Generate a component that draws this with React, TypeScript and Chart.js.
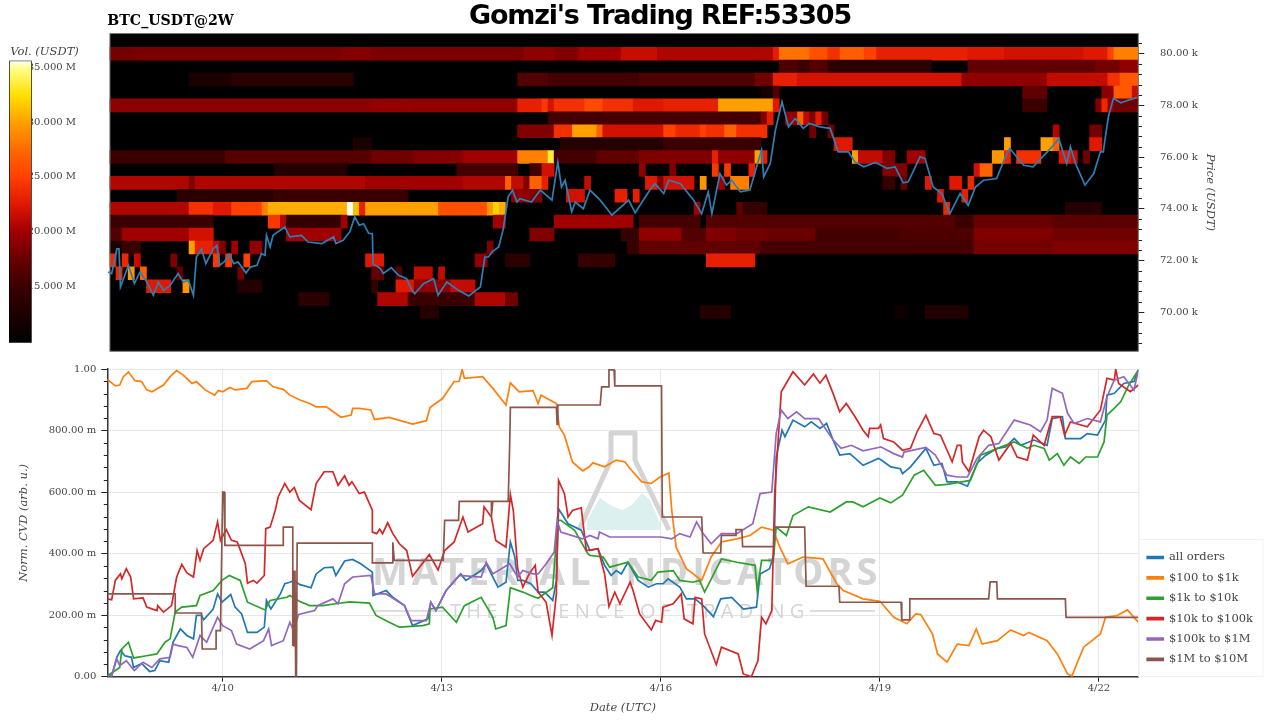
import React, { useEffect, useRef } from 'react';
import { Chart, registerables } from 'chart.js';

Chart.register(...registerables);

const SERIF = '"DejaVu Serif"';
const TEXT = '#444444';
const X_MIN = 8.42;
const X_MAX = 22.54;
const HEAT_T0 = 8.456;
const DATE_TICKS = [10, 13, 16, 19, 22];
const PRICE_TICKS = [70, 72, 74, 76, 78, 80];
const VOL_TICKS = [15, 20, 25, 30, 35];
const CVD_TICKS = [0, 0.2, 0.4, 0.6, 0.8, 1];

// colour scale of the heat map: volume in M USDT, then r, g, b
const volStops = [
  [9.8, 0, 0, 0], [12, 26, 0, 0], [15, 58, 0, 0], [17, 96, 0, 0], [20, 160, 0, 0],
  [22.5, 224, 24, 0], [25, 255, 64, 0], [27, 255, 96, 0], [28.5, 255, 128, 0],
  [30, 255, 160, 0], [32.5, 255, 224, 0], [35, 255, 255, 144], [35.66, 255, 255, 255],
];

// heat map runs per price bin: first 2h column, end column, volume (M USDT)
const heat80 = [[0,4,18],[4,38,18.2],[38,43,18.7],[43,68,18.3],[68,73,19.2],[73,77,18.5],[77,84,20],[84,90,21.5],[90,107,20.5],[107,109,20.6],[109,110,22.8],[110,115,27.8],[115,118,26],[118,120,24],[120,124,26.8],[124,126,25],[126,141,23],[141,147,22.5],[147,160,21.9],[160,164,22.5],[164,165,25],[165,169,28.5]];
const heat795 = [[110,113,16],[113,115,15],[115,118,16.3],[118,135,13.6],[141,162,17],[162,166,18],[166,169,19.3]];
const heat79 = [[13,20,12.2],[20,40,13.6],[67,72,16.3],[72,87,15.5],[87,106,16],[106,109,17.8],[109,113,23],[113,140,22],[140,154,19.3],[154,164,21.3],[164,166,24],[166,169,26.5]];
const heat785 = [[107,109,11.5],[109,110,16.3],[150,154,17],[163,165,19],[165,168,26.5],[168,169,21.5]];
const heat78 = [[0,43,19],[43,50,19.4],[50,67,19.3],[67,71,23],[71,72,24.5],[72,73,22],[73,78,24],[78,81,25.5],[81,86,24],[86,91,22.5],[91,100,23],[100,109,30],[109,110,22.5],[150,154,15],[162,163,18.5],[163,164,23.5],[164,165,19.3],[165,169,17.8]];
const heat775 = [[72,107,15.5],[107,108,18.5],[108,109,22.8],[111,113,19.3],[113,114,27],[114,115,21],[115,116,18.5],[116,117,22.8],[117,118,17.8]];
const heat77 = [[67,73,18.5],[73,76,24],[76,80,30],[80,81,27],[81,91,21.9],[91,93,25],[93,97,23.5],[97,98,25],[98,101,24],[101,103,27],[103,108,24],[115,116,17.8],[118,119,17.8],[155,156,20.6],[161,163,17.8]];
const heat765 = [[40,43,12.2],[74,91,13],[91,107,15],[119,122,22.5],[147,148,30],[153,155,30],[155,156,27],[161,163,22.5]];
const heat76 = [[0,19,15],[19,43,16.5],[43,50,17.8],[50,58,18.7],[58,67,20],[67,72,28.5],[72,73,33.5],[73,80,15.5],[80,87,17],[87,99,18.5],[99,100,23],[100,106,19.3],[106,107,30],[107,108,23],[122,123,30],[123,127,21.3],[127,129,18.5],[131,134,20],[145,147,29.5],[147,148,23.5],[149,153,24],[156,158,22.5],[158,159,21.3],[160,161,17.8]];
const heat755 = [[27,39,13],[57,67,15.5],[69,71,15.5],[71,73,21.9],[87,88,19.3],[92,93,18.5],[99,100,24.5],[101,102,24.5],[105,106,23],[127,131,18.5],[142,143,21.9],[143,145,27]];
const heat75 = [[0,13,20.6],[13,14,18.5],[14,42,20.6],[42,58,20],[58,65,20.6],[65,66,27],[66,68,21.3],[68,69,18.5],[69,71,27],[71,72,23],[78,79,21.3],[88,90,22.5],[90,91,18.5],[91,96,21.9],[97,98,29.5],[100,101,20],[102,105,28.5],[127,129,14.5],[130,131,17],[134,135,22.5],[138,140,22.5],[141,142,23.5]];
const heat745 = [[11,27,13.6],[27,49,15],[66,69,19.3],[69,71,18.5],[75,78,21.9],[83,85,23],[86,87,23],[136,137,22.5],[140,141,23]];
const heat74 = [[0,13,20.6],[13,17,24],[17,20,22.5],[20,25,25],[25,26,28.5],[26,39,30.5],[39,40,35.6],[40,41,31.2],[41,42,23],[42,54,30],[54,62,26],[62,63,29.5],[63,64,32],[64,65,30.5],[96,97,20],[103,104,17],[104,108,14.5],[137,138,23.5],[157,163,13]];
const heat735 = [[0,17,15],[26,28,24.5],[28,29,20.6],[29,38,14.5],[38,39,20],[63,65,20],[73,86,20],[87,97,15.5],[98,107,16.3],[107,139,16.3],[139,142,15],[142,155,17.4],[155,169,16.7]];
const heat73 = [[0,2,16.3],[2,13,20],[13,17,21.9],[29,38,20],[69,73,18.5],[84,87,14.5],[87,94,19.3],[94,98,16.3],[98,103,18.5],[103,108,17.8],[108,116,17.4],[116,130,15.5],[130,142,16],[142,155,18.5],[155,169,17.8]];
const heat725 = [[0,2,12.2],[2,5,15],[13,14,30],[14,17,23],[17,18,21.3],[18,19,18.5],[20,21,20],[23,25,19.3],[62,63,18.5],[85,87,14.5],[87,107,17],[107,142,15.5],[142,155,18],[155,169,18.5]];
const heat72 = [[0,1,23.5],[2,3,23.5],[4,5,21.3],[10,11,18.5],[17,18,24.5],[19,20,24.5],[22,23,25],[42,45,22.5],[60,62,19.3],[65,69,13.6],[77,83,14.5],[98,106,23]];
const heat715 = [[1,2,23.5],[3,4,29.5],[5,6,27],[11,12,17],[21,22,17.8],[43,45,17],[47,48,16.3],[50,53,21.3],[54,55,21.3]];
const heat71 = [[6,10,22.5],[12,13,29.5],[21,25,13],[43,44,14.5],[47,50,22.5],[50,56,19.3],[56,60,21.3]];
const heat705 = [[31,36,13.6],[44,49,20.6],[49,60,15],[60,65,20.6],[65,67,17.8]];
const heat70 = [[51,54,13],[97,102,13],[129,131,11],[134,141,12.6]];
const heatPrices = [80, 79.5, 79, 78.5, 78, 77.5, 77, 76.5, 76, 75.5, 75, 74.5, 74, 73.5, 73, 72.5, 72, 71.5, 71, 70.5, 70];
const heatRows = [heat80, heat795, heat79, heat785, heat78, heat775, heat77, heat765, heat76, heat755, heat75, heat745, heat74, heat735, heat73, heat725, heat72, heat715, heat71, heat705, heat70];

// BTC price, [day of April, k USDT]
const priceLine = [[8.43,71.55],[8.48,71.49],[8.53,72.13],[8.55,72.45],[8.58,72.45],[8.6,70.97],[8.71,71.81],[8.79,71.1],[8.87,71.55],[8.96,71.16],[9.05,70.65],[9.12,71.16],[9.19,70.84],[9.28,71.03],[9.39,71.49],[9.46,71.16],[9.53,71.23],[9.6,70.65],[9.64,72.13],[9.71,72.45],[9.77,71.87],[9.87,72.45],[9.92,72.58],[9.96,71.81],[10.02,71.94],[10.09,72.24],[10.15,71.87],[10.21,71.94],[10.32,71.51],[10.38,71.74],[10.47,71.81],[10.53,72.26],[10.58,72.2],[10.6,72.97],[10.65,72.52],[10.69,72.97],[10.85,73.29],[10.92,72.91],[11.08,72.97],[11.17,72.71],[11.36,72.65],[11.52,72.91],[11.55,72.65],[11.65,72.78],[11.74,73.1],[11.81,73.68],[11.87,73.36],[11.93,73.42],[12,73.04],[12.05,73.04],[12.06,71.87],[12.16,71.68],[12.2,71.49],[12.31,71.72],[12.41,71.42],[12.52,71.29],[12.59,70.84],[12.63,70.71],[12.75,71.1],[12.89,71.29],[12.95,70.65],[13.07,71.16],[13.23,70.84],[13.37,70.62],[13.53,70.97],[13.59,72.13],[13.64,72.13],[13.69,72.33],[13.78,72.52],[13.84,73.17],[13.91,74.46],[13.97,74.72],[14.03,74.26],[14.07,74.39],[14.23,74.26],[14.35,74.72],[14.51,74.33],[14.59,75.81],[14.64,74.84],[14.69,75.1],[14.78,73.88],[14.83,74.26],[14.94,74],[15.03,74.72],[15.17,74.33],[15.28,73.94],[15.33,73.75],[15.56,74.33],[15.65,73.84],[15.85,74.72],[15.92,74.97],[16.04,74.59],[16.11,75.1],[16.27,74.97],[16.45,74.33],[16.56,73.81],[16.65,74.65],[16.7,73.81],[16.81,75.36],[16.9,74.91],[16.97,75.1],[17.09,74.65],[17.22,74.72],[17.38,76.27],[17.41,75.23],[17.5,75.75],[17.57,77.04],[17.66,78.14],[17.75,77.17],[17.84,77.49],[17.95,77.11],[18.04,77.3],[18.18,77.17],[18.32,77.11],[18.43,76.2],[18.57,76.2],[18.66,75.81],[18.78,75.62],[18.94,75.79],[19.1,75.56],[19.21,75.62],[19.32,75],[19.39,75.04],[19.55,76.01],[19.62,75.94],[19.73,74.84],[19.85,74.59],[19.96,73.81],[20.1,74.59],[20.21,74.13],[20.31,74.84],[20.42,75.1],[20.6,75.17],[20.72,76.01],[20.78,76.33],[20.97,75.68],[21.1,75.62],[21.38,76.46],[21.45,76.72],[21.56,75.75],[21.61,76.4],[21.68,75.75],[21.81,74.91],[21.93,75.36],[22.02,76.2],[22.06,76.2],[22.13,77.56],[22.2,78.27],[22.3,78.1],[22.4,78.2],[22.52,78.3]];

// normalised CVD, [day of April, value]
const allOrders = [[8.42,.009],[8.48,.003],[8.55,.063],[8.6,.085],[8.66,.068],[8.75,.063],[8.78,.03],[8.89,.043],[9,.017],[9.07,.02],[9.14,.052],[9.26,.047],[9.32,.112],[9.42,.155],[9.51,.134],[9.6,.123],[9.64,.199],[9.71,.199],[9.74,.185],[9.87,.22],[9.93,.269],[9.99,.242],[10.11,.267],[10.17,.226],[10.26,.204],[10.34,.144],[10.47,.144],[10.57,.161],[10.6,.248],[10.66,.22],[10.79,.269],[10.85,.302],[10.92,.307],[10.98,.313],[11.05,.3],[11.21,.289],[11.28,.334],[11.39,.354],[11.51,.356],[11.55,.329],[11.67,.376],[11.78,.381],[11.89,.367],[12.05,.34],[12.06,.264],[12.24,.28],[12.33,.258],[12.49,.231],[12.6,.166],[12.81,.188],[12.85,.242],[12.92,.215],[13.06,.28],[13.26,.334],[13.33,.313],[13.54,.345],[13.61,.367],[13.7,.324],[13.77,.291],[13.88,.307],[13.94,.438],[14,.39],[14.04,.313],[14.11,.313],[14.22,.302],[14.32,.275],[14.41,.275],[14.52,.248],[14.57,.313],[14.6,.546],[14.73,.497],[14.91,.476],[15.03,.41],[15.14,.416],[15.23,.362],[15.32,.329],[15.39,.345],[15.46,.334],[15.55,.372],[15.69,.313],[15.83,.291],[15.94,.302],[16.03,.302],[16.1,.318],[16.26,.291],[16.35,.253],[16.47,.253],[16.58,.231],[16.72,.195],[16.82,.253],[16.97,.258],[17.13,.22],[17.31,.226],[17.36,.334],[17.49,.351],[17.55,.4],[17.58,.714],[17.66,.801],[17.7,.78],[17.81,.834],[17.97,.812],[18.06,.828],[18.18,.807],[18.27,.823],[18.36,.769],[18.45,.72],[18.59,.725],[18.77,.687],[18.98,.709],[19.01,.706],[19.15,.682],[19.28,.676],[19.31,.66],[19.42,.682],[19.63,.742],[19.74,.687],[19.85,.693],[19.92,.633],[20.06,.633],[20.2,.619],[20.33,.693],[20.45,.72],[20.61,.742],[20.72,.747],[20.84,.774],[20.93,.752],[21.11,.769],[21.29,.752],[21.36,.839],[21.5,.845],[21.54,.774],[21.75,.774],[21.84,.79],[21.98,.785],[22.09,.834],[22.11,.915],[22.21,.921],[22.34,.953],[22.48,.959],[22.54,.997]];
const from100To1k = [[8.42,.966],[8.53,.945],[8.59,.948],[8.64,.975],[8.71,.99],[8.8,.962],[8.89,.959],[8.96,.932],[9.03,.926],[9.19,.948],[9.28,.975],[9.37,.995],[9.46,.98],[9.58,.953],[9.64,.959],[9.76,.932],[9.89,.915],[9.94,.93],[10,.926],[10.1,.94],[10.17,.932],[10.33,.937],[10.4,.959],[10.6,.962],[10.69,.942],[10.83,.934],[10.92,.915],[11.06,.899],[11.19,.888],[11.28,.877],[11.42,.877],[11.62,.843],[11.76,.85],[11.78,.872],[11.87,.872],[12.03,.867],[12.08,.836],[12.28,.843],[12.6,.821],[12.79,.832],[12.84,.875],[13.01,.904],[13.17,.959],[13.24,.96],[13.28,.999],[13.31,.97],[13.56,.975],[13.7,.937],[13.88,.883],[13.94,.955],[14.06,.926],[14.25,.93],[14.32,.888],[14.36,.915],[14.57,.888],[14.61,.812],[14.68,.785],[14.79,.698],[14.93,.669],[15.02,.682],[15.07,.695],[15.23,.682],[15.39,.704],[15.51,.698],[15.58,.676],[15.74,.633],[15.87,.628],[15.99,.649],[16.11,.662],[16.15,.541],[16.21,.421],[16.35,.351],[16.56,.313],[16.69,.389],[16.83,.438],[17.04,.448],[17.22,.459],[17.38,.486],[17.54,.476],[17.63,.421],[17.74,.367],[17.95,.389],[18.22,.383],[18.41,.302],[18.5,.28],[18.77,.253],[19,.245],[19.19,.193],[19.37,.172],[19.49,.204],[19.56,.202],[19.72,.139],[19.79,.074],[19.92,.047],[20.06,.106],[20.22,.101],[20.32,.155],[20.4,.106],[20.61,.117],[20.79,.152],[20.97,.134],[21.04,.144],[21.29,.117],[21.43,.074],[21.57,.009],[21.63,.002],[21.79,.096],[22.02,.139],[22.09,.193],[22.25,.199],[22.39,.217],[22.48,.193],[22.54,.177]];
const from1kTo10k = [[8.42,.003],[8.53,.02],[8.59,.03],[8.62,.09],[8.71,.112],[8.78,.061],[8.96,.068],[9.1,.074],[9.21,.112],[9.28,.123],[9.35,.21],[9.44,.226],[9.64,.231],[9.69,.264],[9.87,.28],[9.99,.313],[10.09,.329],[10.24,.313],[10.34,.242],[10.58,.217],[10.65,.248],[10.88,.258],[10.92,.264],[11.05,.245],[11.19,.231],[11.37,.231],[11.55,.237],[11.74,.243],[12.01,.239],[12.1,.199],[12.28,.177],[12.42,.161],[12.74,.166],[12.83,.172],[12.84,.22],[13.01,.226],[13.2,.177],[13.31,.231],[13.54,.258],[13.7,.193],[13.74,.155],[13.88,.166],[13.94,.289],[14.11,.275],[14.22,.264],[14.32,.255],[14.52,.289],[14.59,.508],[14.63,.508],[14.82,.476],[15,.4],[15.03,.394],[15.21,.389],[15.3,.356],[15.55,.372],[15.69,.324],[15.87,.313],[15.96,.34],[16.17,.345],[16.26,.313],[16.44,.307],[16.53,.313],[16.6,.275],[16.83,.383],[17.04,.372],[17.29,.362],[17.32,.28],[17.38,.378],[17.54,.378],[17.58,.486],[17.72,.459],[17.81,.524],[18.02,.552],[18.32,.535],[18.54,.568],[18.63,.568],[18.77,.552],[19,.581],[19.15,.565],[19.31,.59],[19.47,.655],[19.6,.671],[19.76,.622],[19.92,.625],[20.24,.638],[20.38,.72],[20.61,.742],[20.84,.763],[21.02,.742],[21.11,.752],[21.25,.742],[21.32,.704],[21.43,.725],[21.52,.687],[21.61,.714],[21.73,.693],[21.82,.714],[21.98,.714],[22.07,.763],[22.11,.85],[22.23,.877],[22.3,.894],[22.41,.948],[22.54,.997]];
const from10kTo100k = [[8.42,.253],[8.48,.25],[8.53,.313],[8.6,.334],[8.62,.318],[8.68,.351],[8.74,.324],[8.78,.253],[8.91,.256],[8.96,.226],[9.1,.215],[9.11,.231],[9.19,.21],[9.3,.231],[9.37,.324],[9.44,.365],[9.51,.337],[9.6,.324],[9.65,.41],[9.69,.378],[9.74,.416],[9.87,.443],[9.93,.503],[9.97,.443],[10.05,.478],[10.12,.443],[10.2,.438],[10.31,.367],[10.34,.304],[10.42,.313],[10.47,.304],[10.57,.329],[10.59,.481],[10.65,.486],[10.72,.541],[10.76,.584],[10.85,.628],[10.92,.6],[10.98,.615],[11.05,.573],[11.21,.543],[11.28,.628],[11.39,.666],[11.51,.666],[11.58,.622],[11.67,.653],[11.73,.622],[11.77,.634],[11.87,.595],[11.94,.6],[12.05,.541],[12.05,.47],[12.11,.465],[12.15,.48],[12.19,.465],[12.26,.5],[12.33,.465],[12.42,.432],[12.52,.41],[12.6,.326],[12.83,.397],[12.95,.347],[13.04,.41],[13.17,.438],[13.29,.519],[13.36,.47],[13.56,.497],[13.58,.552],[13.68,.519],[13.74,.443],[13.88,.421],[13.94,.592],[13.98,.54],[14.04,.351],[14.11,.291],[14.2,.335],[14.28,.362],[14.32,.275],[14.43,.242],[14.51,.134],[14.57,.27],[14.6,.638],[14.68,.595],[14.73,.519],[14.79,.54],[14.91,.549],[14.98,.41],[15.14,.416],[15.23,.334],[15.29,.228],[15.37,.275],[15.44,.237],[15.58,.307],[15.62,.28],[15.71,.204],[15.87,.152],[15.93,.183],[16.01,.177],[16.03,.226],[16.17,.237],[16.28,.269],[16.32,.188],[16.44,.172],[16.47,.258],[16.56,.253],[16.6,.139],[16.76,.039],[16.83,.096],[17.06,.074],[17.13,.009],[17.24,0],[17.33,.052],[17.38,.193],[17.44,.172],[17.52,.215],[17.56,.595],[17.65,.926],[17.81,.991],[17.97,.948],[18.09,.984],[18.18,.954],[18.26,.98],[18.36,.92],[18.45,.861],[18.54,.888],[18.66,.845],[18.77,.801],[18.84,.78],[18.86,.807],[18.98,.807],[19.01,.818],[19.05,.774],[19.19,.763],[19.31,.736],[19.42,.742],[19.51,.796],[19.63,.85],[19.74,.79],[19.83,.785],[19.92,.736],[19.99,.698],[20.06,.752],[20.11,.752],[20.13,.698],[20.22,.666],[20.36,.78],[20.42,.801],[20.52,.78],[20.63,.704],[20.79,.758],[20.88,.714],[21.02,.704],[21.1,.785],[21.25,.752],[21.36,.845],[21.47,.845],[21.53,.785],[21.61,.828],[21.84,.812],[22.02,.866],[22.11,.97],[22.21,.964],[22.23,.999],[22.27,.953],[22.43,.926],[22.54,.948]];
const from100kTo1M = [[8.42,.003],[8.48,.003],[8.55,.058],[8.59,.036],[8.68,.052],[8.79,.02],[8.91,.047],[9.03,.03],[9.14,.058],[9.28,.063],[9.32,.106],[9.39,.101],[9.51,.095],[9.59,.063],[9.69,.134],[9.78,.112],[9.93,.193],[10,.166],[10.12,.15],[10.19,.106],[10.37,.09],[10.56,.117],[10.63,.155],[10.67,.101],[10.83,.117],[10.92,.177],[10.97,.15],[11.04,.202],[11.26,.215],[11.3,.231],[11.51,.253],[11.58,.237],[11.67,.302],[11.78,.324],[12.03,.329],[12.08,.269],[12.24,.269],[12.49,.231],[12.58,.182],[12.79,.182],[12.85,.242],[12.92,.215],[13.06,.28],[13.24,.329],[13.54,.324],[13.61,.372],[13.7,.334],[13.93,.367],[14.04,.324],[14.11,.345],[14.25,.334],[14.32,.334],[14.43,.367],[14.54,.405],[14.58,.508],[14.63,.47],[14.93,.448],[15.03,.459],[15.14,.448],[15.16,.47],[15.3,.454],[15.69,.454],[16,.454],[16.15,.448],[16.26,.465],[16.4,.454],[16.49,.503],[16.58,.465],[16.69,.432],[16.83,.465],[17.04,.465],[17.26,.497],[17.36,.595],[17.52,.6],[17.58,.79],[17.65,.866],[17.74,.839],[17.86,.861],[17.97,.839],[18.16,.839],[18.36,.769],[18.47,.742],[18.61,.752],[18.77,.734],[18.98,.745],[19.01,.747],[19.19,.725],[19.31,.714],[19.33,.73],[19.63,.745],[19.76,.72],[19.92,.655],[20.06,.649],[20.2,.649],[20.33,.709],[20.49,.752],[20.63,.758],[20.84,.834],[21.06,.818],[21.2,.796],[21.29,.834],[21.36,.937],[21.5,.921],[21.57,.856],[21.66,.823],[21.84,.839],[22.02,.828],[22.11,.91],[22.21,.964],[22.34,.975],[22.48,.932],[22.54,.997]];
const from1MTo10M = [[8.42,.269],[9.35,.269],[9.35,.207],[9.71,.207],[9.72,.09],[9.91,.09],[9.91,.15],[9.97,.15],[10,.6],[10.02,.6],[10.03,.427],[10.83,.427],[10.83,.486],[10.96,.486],[10.96,.1],[10.97,.345],[10.98,.1],[10.99,.345],[11,0],[11.01,0],[11.02,.434],[12.05,.434],[12.05,.37],[12.32,.37],[12.33,.437],[12.35,.378],[13.02,.378],[13.04,.508],[13.23,.508],[13.24,.57],[13.68,.57],[13.68,.52],[13.7,.57],[13.91,.57],[13.93,.75],[13.94,.875],[14.57,.875],[14.58,.82],[14.59,.883],[15.17,.883],[15.19,.942],[15.28,.942],[15.29,.997],[15.36,.997],[15.37,.945],[16.01,.945],[16.02,.519],[16.56,.519],[16.58,.402],[16.82,.402],[16.83,.459],[17.03,.459],[17.03,.478],[17.11,.478],[17.12,.423],[17.55,.423],[17.56,.486],[17.97,.486],[17.99,.294],[18.44,.294],[18.45,.242],[19.29,.242],[19.3,.185],[19.41,.185],[19.41,.253],[20.49,.253],[20.51,.308],[20.6,.308],[20.61,.253],[21.54,.253],[21.55,.193],[22.54,.193]];

const cvdNames = ['all orders', '$100 to $1k', '$1k to $10k', '$10k to $100k', '$100k to $1M', '$1M to $10M'];
const cvdSeries = [allOrders, from100To1k, from1kTo10k, from10kTo100k, from100kTo1M, from1MTo10M];
const cvdColors = ['#1f77b4', '#ff7f0e', '#2ca02c', '#d62728', '#9467bd', '#8c564b'];

function volColor(v: number) {
  for (let i = 1; i < volStops.length; i++) {
    const a = volStops[i - 1];
    const b = volStops[i];
    if (v <= b[0]) {
      const t = Math.max(0, (v - a[0]) / (b[0] - a[0]));
      const c = [1, 2, 3].map((k) => Math.round(a[k] + (b[k] - a[k]) * t));
      return `rgb(${c[0]},${c[1]},${c[2]})`;
    }
  }
  return 'rgb(255,255,255)';
}

// Chart.js has one tick length per axis, so the short ticks are added here
const minorTicks = {
  id: 'minorTicks',
  afterDraw(chart: any, _args: any, opts: any) {
    if (!opts.axis) return;
    const { ctx } = chart;
    const scale = chart.scales[opts.axis];
    ctx.save();
    ctx.strokeStyle = '#222';
    ctx.lineWidth = 1;
    for (const v of opts.values) {
      const y = Math.round(scale.getPixelForValue(v)) + 0.5;
      ctx.beginPath();
      ctx.moveTo(opts.x, y);
      ctx.lineTo(opts.x + opts.length, y);
      ctx.stroke();
    }
    ctx.restore();
  },
};

const heatFrame = {
  id: 'heatFrame',
  beforeDatasetsDraw(chart: any) {
    const { ctx, chartArea: a, scales } = chart;
    const left = scales.x.getPixelForValue(HEAT_T0);
    ctx.save();
    ctx.fillStyle = '#000';
    ctx.fillRect(left, a.top, a.right - left, a.bottom - a.top);
    ctx.restore();
  },
  afterDraw(chart: any) {
    const { ctx, chartArea: a, scales } = chart;
    const left = scales.x.getPixelForValue(HEAT_T0);
    ctx.save();
    ctx.strokeStyle = '#777';
    ctx.lineWidth = 1;
    ctx.strokeRect(left, a.top, a.right - left, a.bottom - a.top);
    ctx.restore();
  },
};

const CVD_TOP = 358;

// logo behind the CVD lines, plus the light frame on the right and around the legend
const watermark = {
  id: 'watermark',
  afterLayout(chart: any) {
    // whole number, so the legend's own row check does not hit a rounding error
    chart.legend.bottom = Math.round(chart.legend.bottom) - 3;
  },
  beforeDatasetsDraw(chart: any) {
    const { ctx, chartArea: a } = chart;
    const top = -CVD_TOP;
    ctx.save();
    ctx.strokeStyle = '#e6e6e6';
    ctx.lineWidth = 1;
    ctx.beginPath();
    ctx.moveTo(a.right + 0.5, a.top);
    ctx.lineTo(a.right + 0.5, a.bottom);
    ctx.stroke();
    ctx.strokeStyle = '#f2f2f2';
    ctx.strokeRect(a.right + 0.5, 539.5 + top, 124, 137);

    ctx.fillStyle = '#ddf0f0';
    ctx.beginPath();
    ctx.moveTo(587, 530 + top);
    ctx.lineTo(587, 520 + top);
    ctx.lineTo(600, 498 + top);
    ctx.lineTo(610, 505 + top);
    ctx.lineTo(622, 510 + top);
    ctx.lineTo(632, 505 + top);
    ctx.lineTo(642, 493 + top);
    ctx.lineTo(650, 500 + top);
    ctx.lineTo(660, 523 + top);
    ctx.lineTo(660, 530 + top);
    ctx.closePath();
    ctx.fill();

    ctx.strokeStyle = '#d4d4d4';
    ctx.lineWidth = 5;
    ctx.lineJoin = 'round';
    ctx.beginPath();
    ctx.moveTo(579, 530 + top);
    ctx.lineTo(611, 460 + top);
    ctx.lineTo(611, 433 + top);
    ctx.lineTo(635, 433 + top);
    ctx.lineTo(635, 460 + top);
    ctx.lineTo(669, 530 + top);
    ctx.stroke();

    ctx.fillStyle = '#d4d4d4';
    ctx.textAlign = 'left';
    ctx.textBaseline = 'alphabetic';
    ctx.font = 'bold 38px "Open Sans"';
    ctx.letterSpacing = '4px';
    ctx.fillText('MATERIAL INDICATORS', 372, 585 + top);
    ctx.font = '20px "Open Sans"';
    ctx.letterSpacing = '5.3px';
    ctx.fillText('THE SCIENCE OF TRADING', 450, 618 + top);
    ctx.letterSpacing = '0px';
    ctx.lineWidth = 1.5;
    ctx.beginPath();
    ctx.moveTo(375, 611 + top);
    ctx.lineTo(445, 611 + top);
    ctx.moveTo(810, 611 + top);
    ctx.lineTo(875, 611 + top);
    ctx.stroke();
    ctx.restore();
  },
};

function heatDataset() {
  const cells: any[] = [];
  const colors: string[] = [];
  heatRows.forEach((runs, r) => {
    runs.forEach(([from, to, vol]) => {
      cells.push({ x: [HEAT_T0 + from / 12, HEAT_T0 + to / 12], y: heatPrices[r] });
      colors.push(volColor(vol));
    });
  });
  return {
    type: 'bar',
    indexAxis: 'y',
    data: cells,
    backgroundColor: colors,
    borderWidth: 0,
    barPercentage: 1,
    categoryPercentage: 1,
    order: 1,
  };
}

function volGradient(context: any) {
  const { chart } = context;
  if (!chart.chartArea) return '#000';
  const scale = chart.scales.y;
  const g = chart.ctx.createLinearGradient(0, scale.getPixelForValue(scale.min), 0, scale.getPixelForValue(scale.max));
  volStops.forEach((s) => {
    g.addColorStop((s[0] - scale.min) / (scale.max - scale.min), `rgb(${s[1]},${s[2]},${s[3]})`);
  });
  return g;
}

function useChart(make: (canvas: HTMLCanvasElement) => Chart) {
  const ref = useRef<HTMLCanvasElement>(null);
  useEffect(() => {
    if (!ref.current) return;
    const chart = make(ref.current);
    return () => chart.destroy();
  }, []);
  return ref;
}

function makeColorbar(canvas: HTMLCanvasElement) {
  return new Chart(canvas, {
    type: 'bar',
    data: {
      labels: ['vol'],
      datasets: [{ data: [[9.8, 35.66]], backgroundColor: volGradient, borderColor: '#000', borderWidth: 1, borderSkipped: false, barPercentage: 1, categoryPercentage: 1 }],
    } as any,
    options: {
      responsive: false,
      animation: false,
      layout: { padding: { left: 9, top: 5, bottom: 7.3 } },
      plugins: {
        legend: { display: false },
        tooltip: { enabled: false },
        title: { display: true, text: 'Vol. (USDT)', color: TEXT, padding: { top: 0, bottom: 1.7 }, font: { family: SERIF, size: 11.5, style: 'italic', weight: 'normal' } },
      },
      scales: {
        x: { display: false },
        y: {
          position: 'right',
          min: 9.8,
          max: 35.66,
          afterFit: (s: any) => { s.width = 48.3; },
          afterBuildTicks: (s: any) => { s.ticks = VOL_TICKS.map((value) => ({ value })); },
          grid: { display: false, drawTicks: false },
          border: { display: false },
          ticks: { padding: -4, color: TEXT, font: { family: SERIF, size: 10 }, callback: (v: any) => `${Number(v).toFixed(3)} M` },
        },
      },
    } as any,
  });
}

function makeHeatmap(canvas: HTMLCanvasElement) {
  const minor: number[] = [];
  for (let p = 68.8; p < 80.7; p += 0.4) {
    if (Math.abs(p / 2 - Math.round(p / 2)) > 0.01) minor.push(p);
  }
  return new Chart(canvas, {
    type: 'bar',
    data: {
      datasets: [
        { type: 'line', label: 'price', data: priceLine, borderColor: '#2e7fb5', borderWidth: 1.7, pointRadius: 0, tension: 0, order: 0 },
        heatDataset(),
      ],
    } as any,
    options: {
      responsive: false,
      animation: false,
      layout: { padding: { left: 107.3, top: 13 } },
      plugins: {
        legend: { display: false },
        tooltip: { enabled: false },
        title: { display: true, text: 'BTC_USDT@2W', align: 'start', color: '#000', padding: { top: 0, bottom: 3.5 }, font: { family: SERIF, size: 14.2, weight: 'bold' } },
        minorTicks: { axis: 'y', x: 1138.5, length: 3.5, values: minor },
      },
      scales: {
        x: { type: 'linear', display: false, min: X_MIN, max: X_MAX, offset: false, grid: { offset: false } },
        y: {
          type: 'linear',
          position: 'right',
          min: 68.48,
          max: 80.78,
          offset: false,
          afterFit: (s: any) => { s.width = 141.7; },
          afterBuildTicks: (s: any) => { s.ticks = PRICE_TICKS.map((value) => ({ value })); },
          grid: { offset: false, drawOnChartArea: false, tickLength: 6, tickColor: '#222' },
          border: { display: false },
          ticks: { padding: 15.7, color: TEXT, font: { family: SERIF, size: 10 }, callback: (v: any) => `${Number(v).toFixed(2)} k` },
          title: { display: true, text: 'Price (USDT)', color: TEXT, padding: { top: 63, bottom: 0 }, font: { family: SERIF, size: 11.5, style: 'italic' } },
        },
      },
    } as any,
    plugins: [heatFrame, minorTicks],
  });
}

function makeCvd(canvas: HTMLCanvasElement) {
  const minor: number[] = [];
  for (let i = 1; i < 25; i++) if (i % 5 !== 0) minor.push(i * 0.04);
  return new Chart(canvas, {
    type: 'line',
    data: {
      datasets: cvdNames.map((label, i) => ({
        label,
        data: cvdSeries[i],
        borderColor: cvdColors[i],
        backgroundColor: cvdColors[i],
        borderWidth: 1.7,
        pointRadius: 0,
        tension: 0,
        order: cvdNames.length - i,
      })),
    } as any,
    options: {
      responsive: false,
      animation: false,
      layout: { padding: { right: 17 } },
      plugins: {
        tooltip: { enabled: false },
        title: { display: false },
        legend: {
          position: 'right',
          align: 'end',
          fullSize: false,
          labels: {
            boxWidth: 16,
            boxHeight: 2,
            padding: 8.875,
            color: TEXT,
            font: { family: SERIF, size: 11.5 },
            sort: (a: any, b: any) => a.datasetIndex - b.datasetIndex,
          },
        },
        minorTicks: { axis: 'y', x: 103.8, length: 3.5, values: minor },
      },
      scales: {
        x: {
          type: 'linear',
          min: X_MIN,
          max: X_MAX,
          afterFit: (s: any) => { s.height = 43.3; },
          afterBuildTicks: (s: any) => { s.ticks = DATE_TICKS.map((value) => ({ value })); },
          grid: { color: '#e6e6e6', tickColor: '#222', tickLength: 5 },
          border: { color: '#333', width: 1.5 },
          ticks: { padding: 1, autoSkip: false, maxRotation: 0, color: TEXT, font: { family: SERIF, size: 10 }, callback: (v: any) => `4/${v}` },
          title: { display: true, text: 'Date (UTC)', color: TEXT, padding: { top: 0, bottom: 5 }, font: { family: SERIF, size: 11.5, style: 'italic' } },
        },
        y: {
          min: 0,
          max: 1,
          afterFit: (s: any) => { s.width = 107.3; },
          afterBuildTicks: (s: any) => { s.ticks = CVD_TICKS.map((value) => ({ value })); },
          grid: { color: '#e6e6e6', tickColor: '#222', tickLength: 6 },
          border: { color: '#333', width: 1.5 },
          ticks: {
            padding: 5,
            color: TEXT,
            font: { family: SERIF, size: 10 },
            callback: (v: any) => {
              const n = Number(v);
              if (n === 0 || n === 1) return n.toFixed(2);
              return `${(n * 1000).toFixed(2)} m`;
            },
          },
          title: { display: true, text: 'Norm. CVD (arb. u.)', color: TEXT, padding: { top: 17.5, bottom: 0 }, font: { family: SERIF, size: 11.5, style: 'italic' } },
        },
      },
    } as any,
    plugins: [watermark, minorTicks],
  });
}

const at = (left: number, top: number): React.CSSProperties => ({ position: 'absolute', left, top });

export default function App() {
  const heatRef = useChart(makeHeatmap);
  const barRef = useChart(makeColorbar);
  const cvdRef = useChart(makeCvd);
  return (
    <>
      <canvas ref={heatRef} width={1280} height={373} style={at(0, 0)} />
      <canvas ref={barRef} width={80} height={310} style={at(0, 40)} />
      <canvas ref={cvdRef} width={1280} height={362} style={at(0, CVD_TOP)} />
      <div
        style={{
          ...at(440, -1),
          width: 440,
          textAlign: 'center',
          fontFamily: '"DejaVu Sans"',
          fontWeight: 'bold',
          fontSize: 27,
          lineHeight: '32px',
          letterSpacing: -1.2,
          color: '#000',
          whiteSpace: 'nowrap',
        }}
      >
        Gomzi's Trading REF:53305
      </div>
    </>
  );
}
